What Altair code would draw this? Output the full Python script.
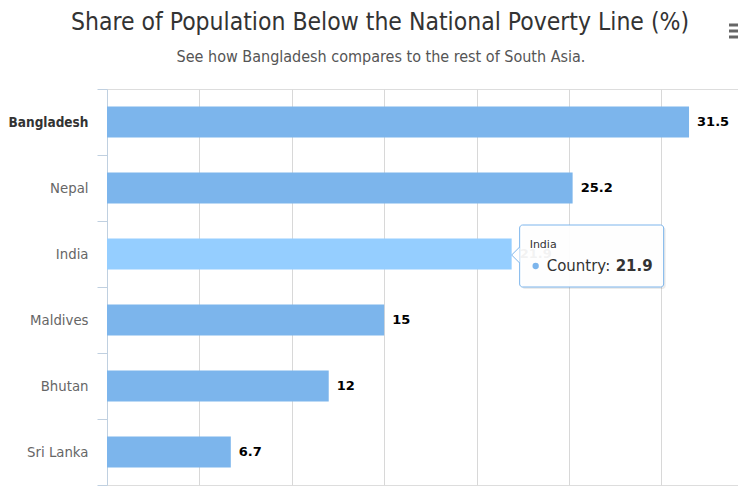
import altair as alt
import pandas as pd

countries = ["Bangladesh", "Nepal", "India", "Maldives", "Bhutan", "Sri Lanka"]
values = [31.5, 25.2, 21.9, 15, 12, 6.7]
labels = ["31.5", "25.2", "21.9", "15", "12", "6.7"]
grid_ticks = [0, 5, 10, 15, 20, 25, 30]
hover_country = "India"
series_name = "Country"
title_text = "Share of Population Below the National Poverty Line (%)"
subtitle_text = "See how Bangladesh compares to the rest of South Asia."

df = pd.DataFrame({"country": countries, "value": values, "label": labels})
hov = df[df["country"] == hover_country].copy()
hov["head"] = hover_country
hov["series"] = series_name + ":"

FONT = "DejaVu Sans"
COND = "DejaVu Sans Condensed"
BLUE = "#7cb5ec"
IS_BD = "datum.value == 'Bangladesh'"

y_enc = alt.Y(
    "country:N",
    sort=countries,
    scale=alt.Scale(paddingInner=0, paddingOuter=0),
    axis=alt.Axis(
        title=None,
        tickBand="extent",
        tickSize=10,
        tickColor="#C0D0E0",
        domainColor="#C0D0E0",
        labelFontSize={"condition": {"test": IS_BD, "value": 13.5}, "value": 13.3},
        labelFont={"condition": {"test": IS_BD, "value": COND}, "value": FONT},
        labelPadding=9,
        labelColor={"condition": {"test": IS_BD, "value": "#333333"}, "value": "#666666"},
        labelFontWeight={"condition": {"test": IS_BD, "value": "bold"}, "value": "normal"},
        grid=False,
    ),
)
x_enc = alt.X(
    "value:Q",
    scale=alt.Scale(domain=[0, 34.15], nice=False),
    axis=alt.Axis(title=None, labels=False, ticks=False, domain=False,
                  values=grid_ticks, gridColor="#D8D8D8", grid=True),
)

base = alt.Chart(df)

bars = base.mark_bar(size=31).encode(
    x=x_enc, y=y_enc,
    color=alt.condition(alt.datum.country == hover_country, alt.value("#95ceff"), alt.value(BLUE)),
)

dlabels = base.mark_text(align="left", baseline="middle", dx=8, fontSize=13,
                         fontWeight="bold", font=FONT, color="#000000").encode(
    x="value:Q", y=alt.Y("country:N", sort=countries), text="label:N")

hbase = alt.Chart(hov)
yy = alt.Y("country:N", sort=countries)
shadow = hbase.mark_bar(size=62, xOffset=10, x2Offset=154, yOffset=4, cornerRadius=3,
                        color="#000000", opacity=0.08).encode(x="value:Q", x2="value:Q", y=yy)
box = hbase.mark_bar(size=62, xOffset=8, x2Offset=152, yOffset=2, cornerRadius=3,
                     fill="#ffffff", fillOpacity=0.95, stroke=BLUE, strokeWidth=1).encode(
    x="value:Q", x2="value:Q", y=yy)
arrow = hbase.mark_point(shape="M0,-1L-1,0L0,1", size=256, filled=True, fill="#ffffff",
                         stroke=BLUE, strokeWidth=1, opacity=1, xOffset=8, yOffset=1).encode(
    x="value:Q", y=yy)
head = hbase.mark_text(align="left", baseline="alphabetic", fontSize=11, font=FONT,
                       color="#333333", dx=18, dy=-6).encode(x="value:Q", y=yy, text="head:N")
dot = hbase.mark_point(shape="circle", size=40, filled=True, color=BLUE, opacity=1,
                       xOffset=24, yOffset=12).encode(x="value:Q", y=yy)
ser = hbase.mark_text(align="left", baseline="alphabetic", fontSize=15, font=FONT,
                      color="#333333", dx=35, dy=17).encode(x="value:Q", y=yy, text="series:N")
val = hbase.mark_text(align="left", baseline="alphabetic", fontSize=15, font=FONT,
                      fontWeight="bold", color="#333333", dx=104, dy=17).encode(
    x="value:Q", y=yy, text="label:N")

tdf = pd.DataFrame({"t": [title_text]})
sdf = pd.DataFrame({"t": [subtitle_text]})
title = alt.Chart(tdf).mark_text(align="center", baseline="alphabetic", font=COND,
                                 fontSize=24.5, color="#333333").encode(
    x=alt.value(273), y=alt.value(-59), text="t:N")
subtitle = alt.Chart(sdf).mark_text(align="center", baseline="alphabetic", font=COND,
                                    fontSize=16, color="#555555").encode(
    x=alt.value(274), y=alt.value(-27), text="t:N")

menu_layers = []
for ym in (-64, -58, -52):
    menu_layers.append(
        alt.Chart(df.head(1)).mark_rule(color="#666666", strokeWidth=3).encode(
            x=alt.value(622), x2=alt.value(640), y=alt.value(ym))
    )

chart = alt.layer(bars, dlabels, shadow, box, arrow, head, dot, ser, val,
                  title, subtitle, *menu_layers).properties(
    width=631,
    height=396,
    padding={"left": 99, "top": 81, "right": 0, "bottom": 4},
    autosize="none",
).configure_view(stroke=None).configure(background="#ffffff")

chart.save("out.html", embed_options={"renderer": "svg", "actions": False})
